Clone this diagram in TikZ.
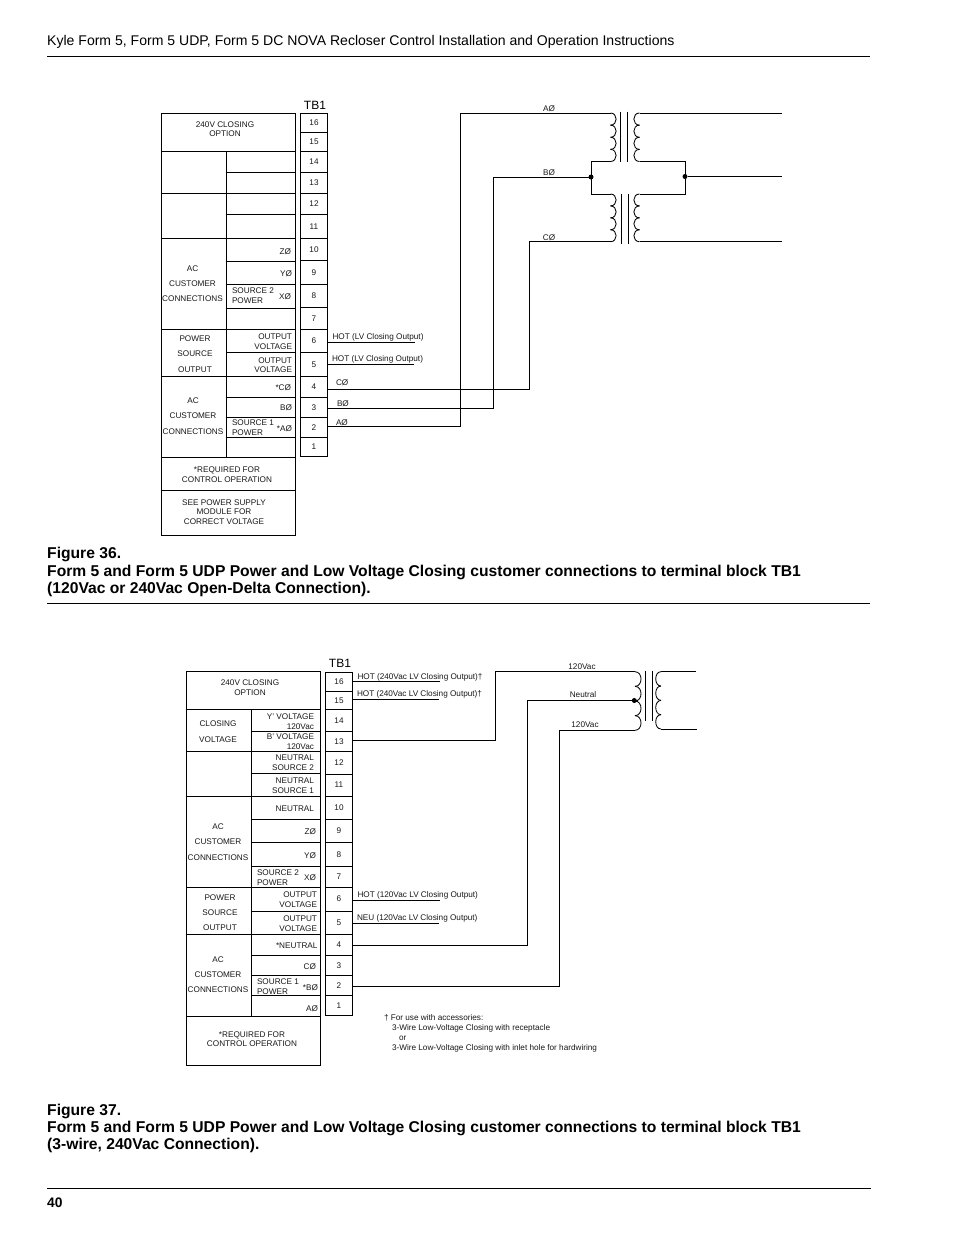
\documentclass[tikz,border=0pt]{standalone}
\usepackage{fontspec}
\setmainfont{Liberation Sans}
\usetikzlibrary{calc}
\newcounter{lc}
\tikzset{
  wire/.style={draw=black,line width=0.85pt,line join=miter},
  frame/.style={draw=black,line width=0.85pt},
  rulel/.style={draw=black,line width=0.8pt},
  txt/.style={inner sep=0pt,outer sep=0pt,font=\fontsize{8.2}{9}\selectfont,text=black!90},
  term/.style={draw=black,line width=0.85pt,inner sep=0pt,outer sep=0pt,minimum width=27pt,font=\fontsize{8.2}{9}\selectfont,text=black!90},
  dotn/.style={circle,fill=black,inner sep=0pt,minimum size=5pt},
  head/.style={inner sep=0pt,anchor=base west,font=\fontsize{14.05}{16}\selectfont},
  capt/.style={inner sep=0pt,anchor=base west,font=\fontsize{15.65}{17}\selectfont\bfseries},
  tbl/.style={inner sep=0pt,anchor=base,font=\fontsize{12}{13}\selectfont},
}
% anchor, x, cap-centre y, text
\newcommand\tx[4]{\stepcounter{lc}\node[txt,anchor=base #1] (t\arabic{lc}) at (#2,#3+3) {#4};}
\newcommand\tc[3]{\stepcounter{lc}\node[txt,anchor=base] (t\arabic{lc}) at (#1,#2+3) {#3};}
\newcommand\coil[4]{\pgfmathsetmacro\hh{(#3-#2)/4}\foreach \i in {0,1,2,3}{\pgfmathsetmacro\ya{#2+\i*\hh}\pgfmathsetmacro\yb{\ya+\hh}\draw[wire] (#1,\ya) .. controls ({#1+#4},\ya) and ({#1+#4},\yb) .. (#1,\yb);}}
\begin{document}
\begin{tikzpicture}[x=1pt,y=-1pt]
\useasboundingbox (0,0) rectangle (954,1235);
\fill[white] (0,0) rectangle (954,1235);
% page furniture
\node[head] (hdr) at (47,45) {Kyle Form 5, Form 5 UDP, Form 5 DC NOVA Recloser Control Installation and Operation Instructions};
\draw[rulel] (47,56.5) -- (870,56.5);
\draw[rulel] (47,603.5) -- (870,603.5);
\draw[rulel] (47,1188) -- (871,1188);
\node[capt] (c1a) at (47,558) {Figure 36.};
\node[capt] (c1b) at (47,576) {Form 5 and Form 5 UDP Power and Low Voltage Closing customer connections to terminal block TB1};
\node[capt] (c1c) at (47,593) {(120Vac or 240Vac Open-Delta Connection).};
\node[capt] (c2a) at (47,1115) {Figure 37.};
\node[capt] (c2b) at (47,1132) {Form 5 and Form 5 UDP Power and Low Voltage Closing customer connections to terminal block TB1};
\node[capt] (c2c) at (47,1149) {(3-wire, 240Vac Connection).};
\node[capt,font=\fontsize{13.8}{15}\selectfont\bfseries] (pg) at (47,1207.5) {40};

%%% FIGURE 36 table
\draw[frame] (161,113) rectangle (295.5,535);
\draw[frame] (226,151.5) -- (226,457);
\foreach \y in {151.5,193.5,238,329,376,457,490.7} \draw[frame] (161,\y) -- (295.5,\y);
\foreach \y in {172.5,214.5,261,284.7,308,352.7,397,417.7,437} \draw[frame] (226,\y) -- (295.5,\y);
\tc{225}{124}{240V CLOSING}
\tc{225}{133}{OPTION}
\tx{east}{291}{251}{ZØ}
\tx{east}{292}{273}{YØ}
\tx{west}{232}{290}{SOURCE 2}
\tx{west}{232}{300}{POWER}
\tx{east}{291}{296}{XØ}
\tc{192.5}{268}{AC}
\tc{192.5}{283}{CUSTOMER}
\tc{192.5}{298}{CONNECTIONS}
\tc{195}{338}{POWER}
\tc{195}{353}{SOURCE}
\tc{195}{369}{OUTPUT}
\tx{east}{292}{336}{OUTPUT}
\tx{east}{292}{346}{VOLTAGE}
\tx{east}{292}{360}{OUTPUT}
\tx{east}{292}{369}{VOLTAGE}
\tx{east}{291}{387}{*CØ}
\tx{east}{292}{407}{BØ}
\tx{west}{232}{422}{SOURCE 1}
\tx{west}{232}{432}{POWER}
\tx{east}{292}{428}{*AØ}
\tc{193}{400}{AC}
\tc{193}{415}{CUSTOMER}
\tc{193}{431}{CONNECTIONS}
\tc{227}{469}{*REQUIRED FOR}
\tc{227}{479}{CONTROL OPERATION}
\tc{224}{502}{SEE POWER SUPPLY}
\tc{224}{511}{MODULE FOR}
\tc{224}{521}{CORRECT VOLTAGE}
\node[tbl] (tb1a) at (315,109) {TB1};
% terminals 36
\foreach \n/\a/\b in {16/113/132.3,15/132.3/151.3,14/151.3/172.3,13/172.3/193.3,12/193.3/214.7,11/214.7/238.3,10/238.3/260.7,9/260.7/284.7,8/284.7/307.3,7/307.3/329.3,6/329.3/352.7,5/352.7/376.3,4/376.3/397.3,3/397.3/417.7,2/417.7/437.7,1/437.7/456.3}
  \node[term,minimum height={(\b-\a)*1pt}] (a\n) at (314,{(\a+\b)/2}) {\n};
% wires 36
\tx{west}{332.5}{336}{HOT (LV Closing Output)}
\tx{west}{332}{358}{HOT (LV Closing Output)}
\tx{west}{336}{382}{CØ}
\tx{west}{337}{403}{BØ}
\tx{west}{336}{422}{AØ}
\draw[wire] ($(a6.east)+(0,1.5)$) -- ++(87.5,0);
\draw[wire] ($(a5.east)+(0,0)$) -- ++(86.5,0);
\coordinate (pA) at (610.5,113);
\coordinate (pB) at (591,177);
\coordinate (pC) at (610.5,241.7);
\coordinate (bA) at (460,113);
\coordinate (bB) at (493.5,177);
\coordinate (bC) at (529,241.7);
\draw[wire] ($(a2.east)+(0,-1)$) -| (bA) -- (pA);
\draw[wire] ($(a3.east)+(0,1)$) -| (bB) -- (pB);
\draw[wire] ($(a4.east)+(0,2.5)$) -| (bC) -- (pC);
\tc{549}{108}{AØ}
\tc{549}{172}{BØ}
\tc{549}{237}{CØ}
% transformers 36
\coil{610.5}{113}{161.5}{7.5}
\coil{639.5}{113}{161.5}{-7.5}
\coil{610.5}{194}{241.7}{7.5}
\coil{639.5}{194}{241.7}{-7.5}
\draw[wire] (620.3,111.7) -- (620.3,161.7);
\draw[wire] (627.3,111.7) -- (627.3,161.7);
\draw[wire] (621.3,194) -- (621.3,244);
\draw[wire] (628.3,194) -- (628.3,244);
\node[dotn] (dB) at (pB) {};
\coordinate (pD) at (685,176.5);
\node[dotn] (dD) at (pD) {};
\draw[wire] (610.5,161.5) -- (591,161.5) -- (591,194) -- (610.5,194);
\draw[wire] (639.5,161.5) -- (685,161.5) -- (685,194) -- (639.5,194);
\coordinate (oA) at (782,113);
\coordinate (oB) at (782,176.5);
\coordinate (oC) at (782,241.7);
\draw[wire] (639.5,113) -- (oA);
\draw[wire] (dD) -- (oB);
\draw[wire] (639.5,241.7) -- (oC);

%%% FIGURE 37 table
\draw[frame] (186,671.7) rectangle (320,1065);
\draw[frame] (251,709.7) -- (251,1016);
\foreach \y in {709.7,751,796,887.3,934.3,1016} \draw[frame] (186,\y) -- (320,\y);
\foreach \y in {731,773.3,819.3,842.7,866,911,955.3,975.3,995.3} \draw[frame] (251,\y) -- (320,\y);
\tc{250}{682}{240V CLOSING}
\tc{250}{692}{OPTION}
\tc{218}{723}{CLOSING}
\tc{218}{739}{VOLTAGE}
\tx{east}{314}{716}{Y\char39{} VOLTAGE}
\tx{east}{314}{726}{120Vac}
\tx{east}{314}{736}{B\char39{} VOLTAGE}
\tx{east}{314}{746}{120Vac}
\tx{east}{314}{757}{NEUTRAL}
\tx{east}{314}{767}{SOURCE 2}
\tx{east}{314}{780}{NEUTRAL}
\tx{east}{314}{790}{SOURCE 1}
\tx{east}{314}{808}{NEUTRAL}
\tx{east}{316}{831}{ZØ}
\tx{east}{316}{855}{YØ}
\tx{west}{257}{872}{SOURCE 2}
\tx{west}{257}{882}{POWER}
\tx{east}{316}{877}{XØ}
\tc{218}{826}{AC}
\tc{218}{841}{CUSTOMER}
\tc{218}{857}{CONNECTIONS}
\tc{220}{897}{POWER}
\tc{220}{912}{SOURCE}
\tc{220}{927}{OUTPUT}
\tx{east}{317}{894}{OUTPUT}
\tx{east}{317}{904}{VOLTAGE}
\tx{east}{317}{918}{OUTPUT}
\tx{east}{317}{928}{VOLTAGE}
\tx{east}{317.5}{945}{*NEUTRAL}
\tx{east}{316}{966}{CØ}
\tx{west}{257}{981}{SOURCE 1}
\tx{west}{257}{991}{POWER}
\tx{east}{318}{987}{*BØ}
\tx{east}{318}{1008}{AØ}
\tc{218}{959}{AC}
\tc{218}{974}{CUSTOMER}
\tc{218}{989}{CONNECTIONS}
\tc{252}{1034}{*REQUIRED FOR}
\tc{252}{1043}{CONTROL OPERATION}
\node[tbl] (tb1b) at (340,667) {TB1};
% terminals 37
\foreach \n/\a/\b in {16/672/691.7,15/691.7/709.7,14/709.7/731.3,13/731.3/751.7,12/751.7/774,11/774/796,10/796/819.3,9/819.3/842.7,8/842.7/866,7/866/887.3,6/887.3/911,5/911/934.3,4/934.3/955.3,3/955.3/975.3,2/975.3/995.3,1/995.3/1015.7}
  \node[term,minimum height={(\b-\a)*1pt}] (b\n) at (339,{(\a+\b)/2}) {\n};
% wires 37
\tx{west}{357.5}{676}{HOT (240Vac LV Closing Output)†}
\tx{west}{357}{693}{HOT (240Vac LV Closing Output)†}
\tx{west}{357.5}{894}{HOT (120Vac LV Closing Output)}
\tx{west}{357}{917}{NEU (120Vac LV Closing Output)}
\draw[wire] ($(b16.east)+(0,-.8)$) -- ++(87.5,0);
\draw[wire] ($(b15.east)+(0,-1.4)$) -- ++(86.2,0);
\draw[wire] ($(b6.east)+(0,1.2)$) -- ++(87.5,0);
\draw[wire] ($(b5.east)+(0,.6)$) -- ++(86.2,0);
\coordinate (qA) at (635,671.7);
\coordinate (qN) at (634.3,700.5);
\coordinate (qC) at (635,730.3);
\coordinate (cA) at (495,671.7);
\coordinate (cN) at (527.3,700.5);
\coordinate (cC) at (559.3,730.3);
\draw[wire] ($(b13.east)+(0,-.8)$) -| (cA) -- (qA);
\draw[wire] ($(b4.east)+(0,.9)$) -| (cN) -- (qN);
\draw[wire] ($(b2.east)+(0,1)$) -| (cC) -- (qC);
\tc{582}{666}{120Vac}
\tc{583}{694}{Neutral}
\tc{585}{724}{120Vac}
\coil{635}{671.7}{730.3}{8}
\coil{661}{671.7}{729}{-7}
\node[dotn] (dN) at (qN) {};
\draw[wire] (645.7,670.7) -- (645.7,720.7);
\draw[wire] (652.3,670.7) -- (652.3,720.7);
\coordinate (rA) at (696,671.7);
\coordinate (rC) at (697,729);
\draw[wire] (661,671.7) -- (rA);
\draw[wire] (661,729) -- (rC);
% footnote
\tx{west}{384}{1017}{† For use with accessories:}
\tx{west}{392}{1027}{3-Wire Low-Voltage Closing with receptacle}
\tx{west}{399}{1037}{or}
\tx{west}{392}{1047}{3-Wire Low-Voltage Closing with inlet hole for hardwiring}
\end{tikzpicture}
\end{document}
